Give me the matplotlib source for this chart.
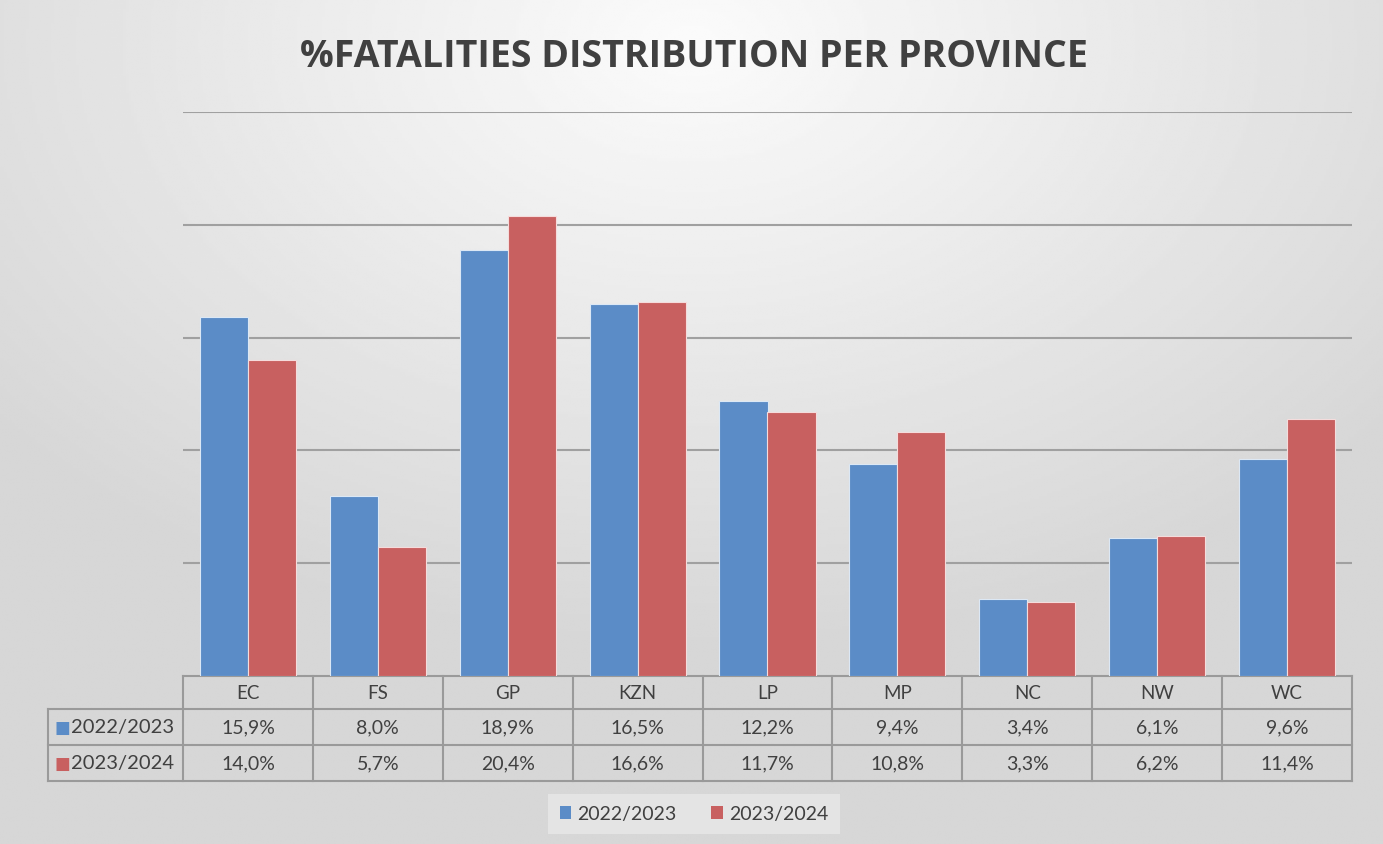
import numpy as np
import matplotlib
matplotlib.use('Agg')
import matplotlib.pyplot as plt
from matplotlib.patches import Patch
from matplotlib.transforms import blended_transform_factory

provinces = ['EC', 'FS', 'GP', 'KZN', 'LP', 'MP', 'NC', 'NW', 'WC']
series_names = ['2022/2023', '2023/2024']
pct_2022 = [15.9, 8.0, 18.9, 16.5, 12.2, 9.4, 3.4, 6.1, 9.6]
pct_2023 = [14.0, 5.7, 20.4, 16.6, 11.7, 10.8, 3.3, 6.2, 11.4]
colors = ['#5b8cc7', '#c86060']

W, H = 1383, 845
fig = plt.figure(figsize=(W / 100, H / 100), dpi=100)

# radial grey background like the office chart style
bg = fig.add_axes([0, 0, 1, 1], zorder=-10)
yy, xx = np.mgrid[0:1:300j, 0:1:500j]
r = np.sqrt(((xx - 0.5) * 1.1) ** 2 + ((yy - 0.05) * 1.0) ** 2)
shade = np.clip(0.985 - 0.2 * r, 0.84, 1.0)
bg.imshow(shade, cmap='gray', vmin=0, vmax=1, aspect='auto', extent=[0, 1, 1, 0])
bg.axis('off')

ax = fig.add_axes([183 / W, 1 - 677 / H, (1352 - 183) / W, (677 - 113) / H])
ax.patch.set_alpha(0)
x = np.arange(len(provinces))
bw = 0.37
ax.bar(x - bw / 2, pct_2022, bw, color=colors[0], edgecolor='#dce8f5', linewidth=0.8, zorder=3)
ax.bar(x + bw / 2, pct_2023, bw, color=colors[1], edgecolor='#f5dcdc', linewidth=0.8, zorder=3)
ax.set_xlim(-0.5, 8.5)
ax.set_ylim(0, 25)
ax.set_yticks([5, 10, 15, 20, 25])
ax.yaxis.grid(True, color='#a0a0a0', linewidth=1.5)
ax.tick_params(left=False, bottom=False, labelleft=False, labelbottom=False)
for s in ax.spines.values():
    s.set_visible(False)

# data table below the axes
tr = blended_transform_factory(ax.transData, ax.transAxes)
ph = 677 - 113
rows = [0, -33 / ph, -69 / ph, -105 / ph]
left = -0.5 - 135 / 130
lc = '#9a9a9a'
tfont = ['Lato', 'DejaVu Sans']
ax.plot([-0.5, 8.5], [rows[0]] * 2, transform=tr, color=lc, lw=1.5, clip_on=False)
for yv in rows[1:]:
    ax.plot([left, 8.5], [yv] * 2, transform=tr, color=lc, lw=1.5, clip_on=False)
for xv in np.arange(-0.5, 9.0, 1.0):
    ax.plot([xv, xv], [rows[0], rows[3]], transform=tr, color=lc, lw=1.5, clip_on=False)
ax.plot([left, left], [rows[1], rows[3]], transform=tr, color=lc, lw=1.5, clip_on=False)

for i, p in enumerate(provinces):
    ax.text(i, (rows[0] + rows[1]) / 2, p, transform=tr, ha='center', va='center',
            fontsize=13.5, color='#404040', family=tfont)
for r_i, vals in enumerate([pct_2022, pct_2023]):
    yc = (rows[r_i + 1] + rows[r_i + 2]) / 2
    for i, v in enumerate(vals):
        ax.text(i, yc, f'{v:.1f}%'.replace('.', ','), transform=tr, ha='center', va='center',
                fontsize=14, color='#404040', family=tfont)
    ax.text(left + 0.05, yc, '■', transform=tr, ha='left', va='center', fontsize=12,
            color=colors[r_i], family='DejaVu Sans')
    ax.text(left + 0.175, yc, series_names[r_i], transform=tr, ha='left', va='center',
            fontsize=14.5, color='#404040', family=tfont)

handles = [Patch(facecolor=c, label=n) for c, n in zip(colors, series_names)]
leg = fig.legend(handles=handles, loc='center', bbox_to_anchor=(694 / W, 1 - 815 / H), ncol=2,
                 frameon=True, fancybox=False, handlelength=0.6, handleheight=0.6,
                 handletextpad=0.3, columnspacing=1.8, borderpad=0.6, borderaxespad=0,
                 prop={'family': tfont, 'size': 14})
leg.get_frame().set_facecolor('#e4e4e4')
leg.get_frame().set_edgecolor('none')
leg.get_frame().set_alpha(1)
for t in leg.get_texts():
    t.set_color('#404040')

fig.text(694 / W, 1 - 57 / H, '%FATALITIES DISTRIBUTION PER PROVINCE', ha='center', va='center',
         fontsize=27, fontweight='bold', color='#404040',
         family=['Liberation Sans Narrow', 'Open Sans', 'DejaVu Sans'])

fig.savefig('out.png', dpi=100)
